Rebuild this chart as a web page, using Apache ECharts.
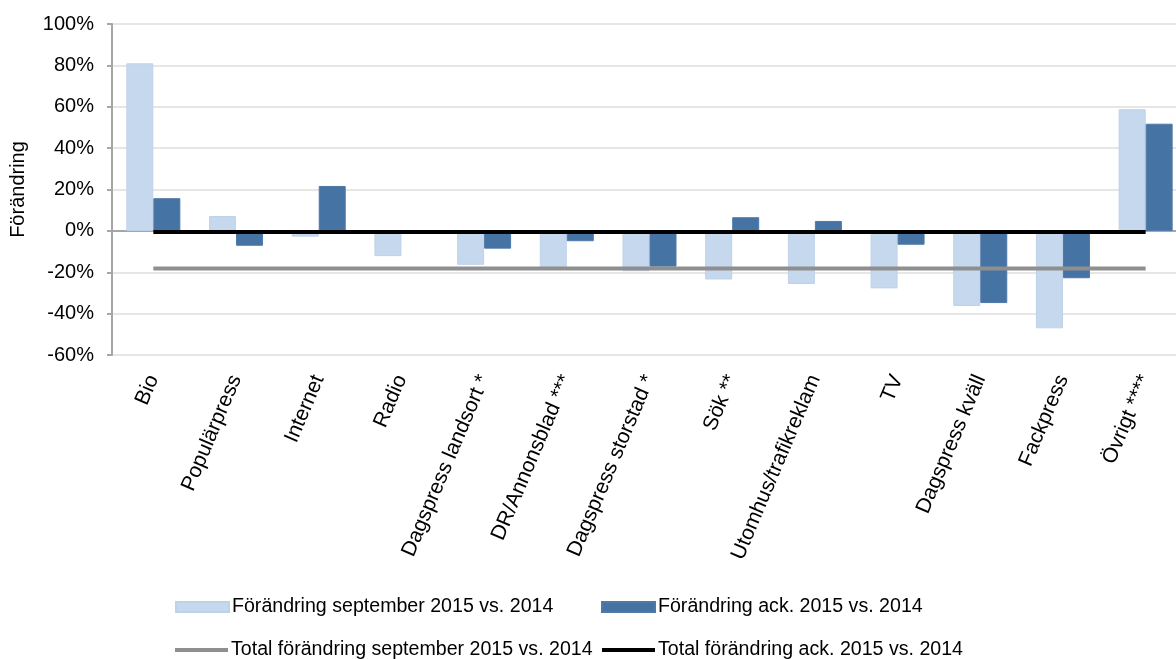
<!DOCTYPE html>
<html lang="sv">
<head>
    <meta charset="UTF-8"/>
    <title>Förändring</title>
    <script src="https://cdn.jsdelivr.net/npm/echarts@6/dist/echarts.min.js"></script>
    <style>
        html, body { margin: 0; padding: 0; background: #fff; }
        #main { width: 1176px; height: 659px; }
    </style>
</head>
<body>
<div id="main"></div>
<script type="text/javascript">
    // kategorier och värden (procent)
    var categories = ['Bio', 'Populärpress', 'Internet', 'Radio', 'Dagspress landsort *', 'DR/Annonsblad ***',
        'Dagspress storstad *', 'Sök **', 'Utomhus/trafikreklam', 'TV', 'Dagspress kväll', 'Fackpress', 'Övrigt ****'];
    var septValues = [81, 7.2, -2.8, -12.2, -16.4, -17.8, -19.5, -23.5, -25.7, -27.8, -36.3, -47.1, 58.8];
    var ackValues = [15.8, -7.2, 21.7, -0.8, -8.6, -5, -17.3, 6.6, 4.8, -6.7, -34.9, -22.9, 51.8];
    var totalSept = -18.2;
    var totalAck = -0.5;
    var yTicks = { min: -60, max: 100, interval: 20 };

    var names = ['Förändring september 2015 vs. 2014', 'Förändring ack. 2015 vs. 2014',
        'Total förändring september 2015 vs. 2014', 'Total förändring ack. 2015 vs. 2014'];

    var font = 'Liberation Sans, Arial, sans-serif';
    var myChart = echarts.init(document.getElementById('main'));

    function legendAt(left, top, name, h) {
        return {
            left: left, top: top, data: [name], padding: 0,
            icon: 'rect', itemWidth: 53, itemHeight: h, itemGap: 0,
            textStyle: { fontFamily: font, fontSize: 19.6, color: '#000', padding: [0, 0, 0, -2] }
        };
    }

    var option = {
        animation: false,
        grid: { left: 112, top: 24, width: 1075, height: 331, containLabel: false, outerBoundsMode: 'none' },
        legend: [
            legendAt(175, 597, names[0], 10),
            legendAt(601, 597, names[1], 10),
            legendAt(175, 640, names[2], 4),
            legendAt(602, 640, names[3], 4)
        ],
        xAxis: [
            {
                type: 'category',
                data: categories,
                axisLine: { onZero: true, lineStyle: { color: '#a6a6a6', width: 2 } },
                axisTick: { length: 5, lineStyle: { color: '#8c8c8c', width: 2 } },
                axisLabel: { show: false }
            },
            {
                type: 'category',
                data: categories,
                position: 'bottom',
                axisLine: { show: false, onZero: false },
                axisTick: { show: false },
                axisLabel: {
                    interval: 0, rotate: 67, margin: 21,
                    fontFamily: font, fontSize: 21, color: '#000'
                }
            }
        ],
        yAxis: {
            type: 'value',
            min: yTicks.min, max: yTicks.max, interval: yTicks.interval,
            name: 'Förändring',
            nameLocation: 'middle',
            nameGap: 84,
            nameTextStyle: { fontFamily: font, fontSize: 20, color: '#000' },
            axisLine: { show: true, lineStyle: { color: '#a6a6a6', width: 2 } },
            axisTick: { show: true, length: 5, lineStyle: { color: '#a6a6a6', width: 2 } },
            axisLabel: { formatter: '{value}%', margin: 18, fontFamily: font, fontSize: 20, color: '#000' },
            splitLine: { lineStyle: { color: '#dedede', width: 1.5 } }
        },
        series: [
            {
                name: names[0], type: 'bar', data: septValues,
                barWidth: 27, barGap: '0%',
                itemStyle: { color: '#c5d8ed', borderColor: '#bfd2e8', borderWidth: 1 }
            },
            {
                name: names[1], type: 'bar', data: ackValues,
                barWidth: 27, barGap: '0%',
                itemStyle: { color: '#4573a3', borderColor: '#5079a8', borderWidth: 1 }
            },
            {
                name: names[2], type: 'line', symbol: 'none',
                data: categories.map(function () { return totalSept; }),
                lineStyle: { color: '#8f8f8f', width: 4 },
                itemStyle: { color: '#8f8f8f' }
            },
            {
                name: names[3], type: 'line', symbol: 'none',
                data: categories.map(function () { return totalAck; }),
                lineStyle: { color: '#000', width: 4 },
                itemStyle: { color: '#000' }
            }
        ]
    };

    myChart.setOption(option);
</script>
</body>
</html>
